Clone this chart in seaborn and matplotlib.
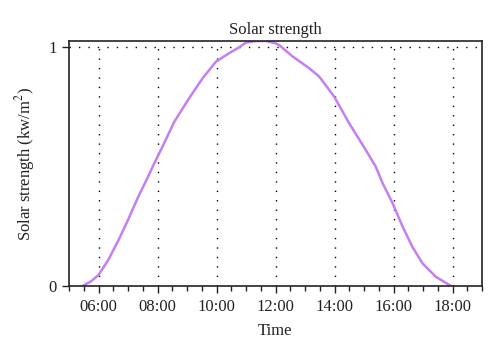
import matplotlib
matplotlib.use("Agg")
import matplotlib.pyplot as plt
import seaborn as sns
import pandas as pd
from matplotlib.ticker import FixedLocator, MultipleLocator, FuncFormatter

# hours of day and solar strength (kW/m^2)
hours = [5.46, 5.75, 6.0, 6.33, 6.67, 7.0, 7.35, 7.68, 7.89, 8.17, 8.57,
         9.07, 9.53, 9.98, 10.43, 10.75, 11.0, 11.3, 11.67, 12.0, 12.12,
         12.58, 13.14, 13.48, 13.99, 14.5, 15.06, 15.4, 15.63, 15.97, 16.31,
         16.64, 16.98, 17.43, 17.95]
strength = [0.0, 0.02, 0.046, 0.109, 0.19, 0.276, 0.374, 0.457, 0.513, 0.583,
            0.687, 0.785, 0.869, 0.938, 0.974, 0.997, 1.018, 1.024, 1.025,
            1.015, 1.008, 0.96, 0.911, 0.876, 0.792, 0.68, 0.569, 0.499, 0.43,
            0.346, 0.248, 0.164, 0.095, 0.039, 0.0]
xtick_hours = [6, 8, 10, 12, 14, 16, 18]
ytick_vals = [0, 1]
title = "Solar strength"
xlabel = "Time"
ylabel = "Solar strength (kw/m$^2$)"

sns.set_theme(style="ticks")
plt.rcParams["font.family"] = ["Liberation Serif", "DejaVu Serif"]
plt.rcParams["mathtext.fontset"] = "stix"

fig = plt.figure(figsize=(5.0, 3.59), dpi=100)
ax = fig.add_axes([0.138, 0.2033, 0.826, 0.6827])

df = pd.DataFrame({"hour": hours, "strength": strength})
sns.lineplot(data=df, x="hour", y="strength", ax=ax, color="#c47ff0", lw=1.8)

ax.set_xlim(5.0, 19.0)
ax.set_ylim(0, 1.025)
ax.xaxis.set_major_locator(FixedLocator(xtick_hours))
ax.xaxis.set_minor_locator(MultipleLocator(0.5))
ax.xaxis.set_major_formatter(FuncFormatter(lambda v, p: f"{int(v):02d}:00"))
ax.yaxis.set_major_locator(FixedLocator(ytick_vals))
ax.yaxis.set_major_formatter(FuncFormatter(lambda v, p: f"{int(v)}"))

for h in xtick_hours:
    ax.axvline(h, color="black", lw=1.0, ls=(0, (1, 5.8)), zorder=0)
ax.axhline(1, color="black", lw=1.0, ls=(0, (1, 5.8)), zorder=0)

for s in ax.spines.values():
    s.set_visible(True)
    s.set_color("#222222")
    s.set_linewidth(1.2)

ax.tick_params(axis="both", which="major", direction="out", length=5, width=1.0,
               color="#222222", labelsize=12, labelcolor="#222222", pad=4)
ax.tick_params(axis="x", which="minor", direction="out", length=3.5, width=1.0,
               color="#222222")

ax.set_title(title, fontsize=12, color="#222222", pad=5)
ax.set_xlabel(xlabel, fontsize=12, color="#222222", labelpad=6)
ax.set_ylabel(ylabel, fontsize=12, color="#222222", labelpad=8)

fig.savefig("out.png", dpi=100)
